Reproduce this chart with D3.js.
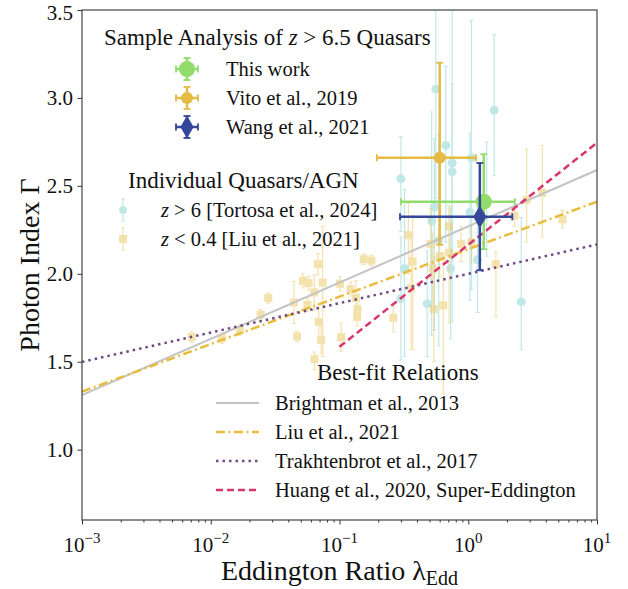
<!DOCTYPE html>
<html>
<head>
    <title>Photon Index vs Eddington Ratio</title>
    <script src="https://cdnjs.cloudflare.com/ajax/libs/d3/7.8.5/d3.min.js"></script>
    <style>
        body { margin: 0; background: white; }
        svg { font-family: "Liberation Serif", "DejaVu Serif", serif; }
    </style>
</head>
<body>
    <div id="chart"></div>
    <script>
        // Tortosa et al. 2024, z > 6 quasars
        const tortosaLambda = [0.56, 1.59, 0.67, 0.75, 0.75, 0.30, 1.06, 0.545, 0.52, 1.03, 0.59, 0.32, 0.73, 1.18, 0.30, 0.48, 2.58, 1.39];
        const tortosaGamma  = [3.05, 2.93, 2.73, 2.63, 2.58, 2.54, 2.66, 2.38, 2.30, 2.35, 2.19, 2.03, 2.03, 2.08, 1.86, 1.83, 1.84, 2.40];
        const tortosaErrLo  = [0.62, 0.37, 0.55, 0.55, 0.85, 0.30, 0.75, 0.70, 0.65, 0.50, 0.60, 0.50, 0.40, 0.30, 0.35, 0.30, 0.27, 0.30];
        const tortosaErrHi  = [0.65, 0.43, 0.45, 0.90, 0.50, 0.24, 0.78, 0.39, 0.62, 0.45, 0.60, 0.45, 0.35, 0.30, 0.35, 0.30, 0.48, 0.35];

        // Liu et al. 2021, z < 0.4 AGN
        const liuLambda = [0.00711, 0.0122, 0.0169, 0.0244, 0.028, 0.0443, 0.0468, 0.052, 0.0575, 0.0563, 0.0637, 0.068, 0.069, 0.072,
                           0.064, 0.074, 0.101, 0.103, 0.122, 0.134, 0.138, 0.137, 0.154, 0.177, 0.262, 0.343, 0.37, 0.36,
                           0.51, 0.53, 0.54, 0.60, 0.64, 0.71, 0.71, 0.88, 1.06, 1.64, 2.28, 2.84, 3.76, 5.4];
        const liuGamma  = [1.64, 1.634, 1.68, 1.767, 1.862, 1.837, 1.644, 1.96, 1.947, 1.824, 1.894, 2.055, 1.726, 1.625,
                           1.515, 1.95, 1.943, 1.64, 1.913, 1.862, 1.80, 1.754, 2.083, 2.075, 1.75, 2.22, 2.07, 1.92,
                           2.17, 2.03, 1.80, 2.10, 1.82, 2.27, 2.12, 2.17, 2.18, 2.055, 2.33, 2.42, 2.46, 2.31];
        const liuErrLo  = [0.03, 0.03, 0.03, 0.03, 0.03, 0.12, 0.03, 0.04, 0.04, 0.04, 0.10, 0.06, 0.12, 0.08,
                           0.06, 0.42, 0.04, 0.08, 0.04, 0.10, 0.05, 0.05, 0.03, 0.03, 0.08, 0.22, 0.50, 0.35,
                           0.20, 0.25, 0.30, 0.12, 0.50, 0.15, 0.40, 0.10, 0.12, 0.30, 0.06, 0.24, 0.25, 0.05];
        const liuErrHi  = [0.03, 0.03, 0.03, 0.03, 0.03, 0.12, 0.03, 0.04, 0.04, 0.04, 0.10, 0.06, 0.10, 0.08,
                           0.04, 0.32, 0.04, 0.08, 0.04, 0.10, 0.05, 0.05, 0.03, 0.03, 0.08, 0.18, 0.26, 0.30,
                           0.20, 0.20, 0.30, 0.12, 0.30, 0.12, 0.25, 0.10, 0.10, 0.07, 0.03, 0.29, 0.27, 0.05];

        // z > 6.5 sample analyses
        const sampleNames    = ["This work", "Vito et al., 2019", "Wang et al., 2021"];
        const sampleLambda   = [1.32, 0.60, 1.23];
        const sampleLambdaLo = [0.30, 0.195, 0.295];
        const sampleLambdaHi = [2.30, 1.15, 2.20];
        const sampleGamma    = [2.41, 2.66, 2.324];
        const sampleGammaLo  = [2.14, 2.165, 2.02];
        const sampleGammaHi  = [2.68, 3.20, 2.63];
        const sampleColors   = ["#92dc6c", "#e6bb45", "#34479a"];

        // best-fit relations: Gamma = slope * log10(lambda) + intercept
        const fitNames     = ["Brightman et al., 2013", "Liu et al., 2021", "Trakhtenbrot et al., 2017", "Huang et al., 2020, Super-Eddington"];
        const fitSlope     = [0.32, 0.27, 0.167, 0.58];
        const fitIntercept = [2.27, 2.14, 2.0, 2.165];
        const fitXmin      = [1e-3, 1e-3, 1e-3, 0.1];
        const fitXmax      = [10, 10, 10, 10];
        const fitColors    = ["#c4c4c4", "#e8bd3c", "#6f4a85", "#d9366a"];
        const fitDash      = [null, "9,3.5,2,3.5", "2.5,4", "7,4"];
        const fitWidth     = [2, 2.5, 2.5, 2.5];

        const xTicks = [-3, -2, -1, 0, 1];
        const yTicks = [1.0, 1.5, 2.0, 2.5, 3.0, 3.5];

        const width = 628, height = 589;
        const margin = { top: 10, right: 31, bottom: 69, left: 82 };

        const svg = d3.select("#chart").append("svg")
            .attr("width", width)
            .attr("height", height);

        const x = d3.scaleLog().domain([1e-3, 10]).range([margin.left, width - margin.right]);
        const y = d3.scaleLinear().domain([0.6, 3.5]).range([height - margin.bottom, margin.top]);

        svg.append("clipPath").attr("id", "plotclip")
            .append("rect")
            .attr("x", margin.left).attr("y", margin.top)
            .attr("width", width - margin.left - margin.right)
            .attr("height", height - margin.top - margin.bottom);

        const plot = svg.append("g").attr("clip-path", "url(#plotclip)");

        // Tortosa points
        const tortosa = tortosaLambda.map((l, i) => ({ l, g: tortosaGamma[i], lo: tortosaErrLo[i], hi: tortosaErrHi[i] }));
        const tg = plot.append("g").attr("opacity", 0.55);
        tortosa.forEach(d => {
            const cx = x(d.l);
            tg.append("line").attr("x1", cx).attr("x2", cx)
                .attr("y1", y(d.g - d.lo)).attr("y2", y(d.g + d.hi))
                .attr("stroke", "#8fd6d6").attr("stroke-width", 1.2);
            [d.g - d.lo, d.g + d.hi].forEach(v => {
                tg.append("line").attr("x1", cx - 2).attr("x2", cx + 2)
                    .attr("y1", y(v)).attr("y2", y(v))
                    .attr("stroke", "#8fd6d6").attr("stroke-width", 1);
            });
            tg.append("circle").attr("cx", cx).attr("cy", y(d.g)).attr("r", 4.5).attr("fill", "#8fd6d6");
        });

        // Liu points
        const liu = liuLambda.map((l, i) => ({ l, g: liuGamma[i], lo: liuErrLo[i], hi: liuErrHi[i] }));
        const lg = plot.append("g").attr("opacity", 0.5);
        liu.forEach(d => {
            const cx = x(d.l);
            lg.append("line").attr("x1", cx).attr("x2", cx)
                .attr("y1", y(d.g - d.lo)).attr("y2", y(d.g + d.hi))
                .attr("stroke", "#ebc75e").attr("stroke-width", 1.2);
            [d.g - d.lo, d.g + d.hi].forEach(v => {
                lg.append("line").attr("x1", cx - 2).attr("x2", cx + 2)
                    .attr("y1", y(v)).attr("y2", y(v))
                    .attr("stroke", "#ebc75e").attr("stroke-width", 1);
            });
            lg.append("rect").attr("x", cx - 4).attr("y", y(d.g) - 4)
                .attr("width", 8).attr("height", 8).attr("fill", "#ebc75e");
        });

        // best-fit lines
        const line = d3.line().x(d => x(d[0])).y(d => y(d[1]));
        fitNames.forEach((name, i) => {
            const pts = [fitXmin[i], fitXmax[i]].map(l => [l, fitSlope[i] * Math.log10(l) + fitIntercept[i]]);
            plot.append("path")
                .attr("d", line(pts))
                .attr("fill", "none")
                .attr("stroke", fitColors[i])
                .attr("stroke-width", fitWidth[i])
                .attr("stroke-dasharray", fitDash[i]);
        });

        // sample markers
        function sampleMarker(g, i, cx, cy, x0, x1, y0, y1) {
            const c = sampleColors[i];
            g.append("line").attr("x1", x0).attr("x2", x1).attr("y1", cy).attr("y2", cy)
                .attr("stroke", c).attr("stroke-width", 2.5);
            g.append("line").attr("x1", cx).attr("x2", cx).attr("y1", y0).attr("y2", y1)
                .attr("stroke", c).attr("stroke-width", 2.5);
            [x0, x1].forEach(v => g.append("line").attr("x1", v).attr("x2", v)
                .attr("y1", cy - 3.5).attr("y2", cy + 3.5).attr("stroke", c).attr("stroke-width", 1.8));
            [y0, y1].forEach(v => g.append("line").attr("y1", v).attr("y2", v)
                .attr("x1", cx - 3.5).attr("x2", cx + 3.5).attr("stroke", c).attr("stroke-width", 1.8));
            if (i === 2) {
                g.append("path").attr("d", d3.symbol(d3.symbolDiamond, 150)())
                    .attr("transform", `translate(${cx},${cy})`)
                    .attr("fill", c);
            } else {
                g.append("circle").attr("cx", cx).attr("cy", cy)
                    .attr("r", i === 0 ? 8 : 6).attr("fill", c);
            }
        }

        const sg = svg.append("g");
        [1, 0, 2].forEach(i => {
            sampleMarker(sg, i, x(sampleLambda[i]), y(sampleGamma[i]),
                x(sampleLambdaLo[i]), x(sampleLambdaHi[i]),
                y(sampleGammaLo[i]), y(sampleGammaHi[i]));
        });

        // axes
        const xAxis = d3.axisBottom(x)
            .tickValues(d3.range(-3, 1).flatMap(e => d3.range(1, 10).map(m => m * Math.pow(10, e))).concat([10]))
            .tickFormat("")
            .tickSizeOuter(0);
        const gx = svg.append("g")
            .attr("transform", `translate(0,${height - margin.bottom})`)
            .call(xAxis);
        gx.selectAll(".tick line")
            .attr("y2", d => Math.abs(Math.log10(d) - Math.round(Math.log10(d))) < 1e-9 ? 4.5 : 2.5)
            .attr("stroke", "#333");
        gx.select(".domain").remove();

        xTicks.forEach(e => {
            const t = svg.append("text")
                .attr("x", x(Math.pow(10, e)))
                .attr("y", height - margin.bottom + 32)
                .attr("text-anchor", "middle")
                .attr("font-size", 21)
                .attr("fill", "#111");
            t.append("tspan").text("10");
            t.append("tspan").attr("dy", -9).attr("font-size", 15).text(e < 0 ? "\u2212" + Math.abs(e) : e);
        });

        const yAxis = d3.axisLeft(y).tickValues(yTicks).tickFormat(d3.format(".1f")).tickSize(4.5).tickSizeOuter(0);
        const gy = svg.append("g")
            .attr("transform", `translate(${margin.left},0)`)
            .call(yAxis);
        gy.select(".domain").remove();
        gy.selectAll(".tick line").attr("stroke", "#333");
        gy.selectAll(".tick text")
            .attr("font-size", 21)
            .attr("font-family", "Liberation Serif")
            .attr("fill", "#111")
            .attr("x", -9)
            .attr("y", d => d === 3.5 ? 3 : 0);

        // frame
        svg.append("rect")
            .attr("x", margin.left).attr("y", margin.top)
            .attr("width", width - margin.left - margin.right)
            .attr("height", height - margin.top - margin.bottom)
            .attr("fill", "none").attr("stroke", "#444").attr("stroke-width", 1.2);

        // axis titles
        const xt = svg.append("text")
            .attr("x", (margin.left + width - margin.right) / 2)
            .attr("y", 580)
            .attr("text-anchor", "middle")
            .attr("font-size", 28)
            .attr("fill", "#111");
        xt.append("tspan").text("Eddington Ratio ");
        xt.append("tspan").text("\u03bb");
        xt.append("tspan").attr("font-size", 20).attr("dy", 5).text("Edd");

        svg.append("text")
            .attr("transform", `translate(39,${(margin.top + height - margin.bottom) / 2}) rotate(-90)`)
            .attr("text-anchor", "middle")
            .attr("font-size", 28)
            .attr("fill", "#111")
            .text("Photon Index \u0393");

        // legends
        const leg = svg.append("g").attr("font-size", 20.5).attr("fill", "#111");

        const t1 = leg.append("text").attr("x", 104).attr("y", 45).attr("font-size", 23);
        t1.append("tspan").text("Sample Analysis of ");
        t1.append("tspan").attr("font-style", "italic").text("z");
        t1.append("tspan").text(" > 6.5 Quasars");

        sampleNames.forEach((name, i) => {
            const cy = 69 + i * 29;
            const cx = 187;
            sampleMarker(leg, i, cx, cy, cx - 11, cx + 11, cy - 11, cy + 11);
            leg.append("text").attr("x", 226).attr("y", cy + 7).text(name);
        });

        leg.append("text").attr("x", 128).attr("y", 188).attr("font-size", 23).text("Individual Quasars/AGN");

        const l2 = [
            { pre: "z", rest: " > 6 [Tortosa et al., 2024]", kind: "c" },
            { pre: "z", rest: " < 0.4 [Liu et al., 2021]", kind: "s" }
        ];
        l2.forEach((d, i) => {
            const cy = 210 + i * 29;
            const cx = 123;
            const g = leg.append("g").attr("opacity", d.kind === "c" ? 0.55 : 0.5);
            const col = d.kind === "c" ? "#8fd6d6" : "#ebc75e";
            g.append("line").attr("x1", cx).attr("x2", cx).attr("y1", cy - 11).attr("y2", cy + 11)
                .attr("stroke", col).attr("stroke-width", 1.2);
            [cy - 11, cy + 11].forEach(v => g.append("line").attr("x1", cx - 2).attr("x2", cx + 2)
                .attr("y1", v).attr("y2", v).attr("stroke", col));
            if (d.kind === "c") {
                g.append("circle").attr("cx", cx).attr("cy", cy).attr("r", 4).attr("fill", col);
            } else {
                g.append("rect").attr("x", cx - 4).attr("y", cy - 4).attr("width", 8).attr("height", 8).attr("fill", col);
            }
            const t = leg.append("text").attr("x", 161).attr("y", cy + 7);
            t.append("tspan").attr("font-style", "italic").text(d.pre);
            t.append("tspan").text(d.rest);
        });

        leg.append("text").attr("x", 317).attr("y", 380).attr("font-size", 23).text("Best-fit Relations");

        fitNames.forEach((name, i) => {
            const cy = 403 + i * 29;
            leg.append("line")
                .attr("x1", 216).attr("x2", 259)
                .attr("y1", cy).attr("y2", cy)
                .attr("stroke", fitColors[i])
                .attr("stroke-width", fitWidth[i])
                .attr("stroke-dasharray", fitDash[i]);
            leg.append("text").attr("x", 275).attr("y", cy + 7).text(name);
        });
    </script>
</body>
</html>
